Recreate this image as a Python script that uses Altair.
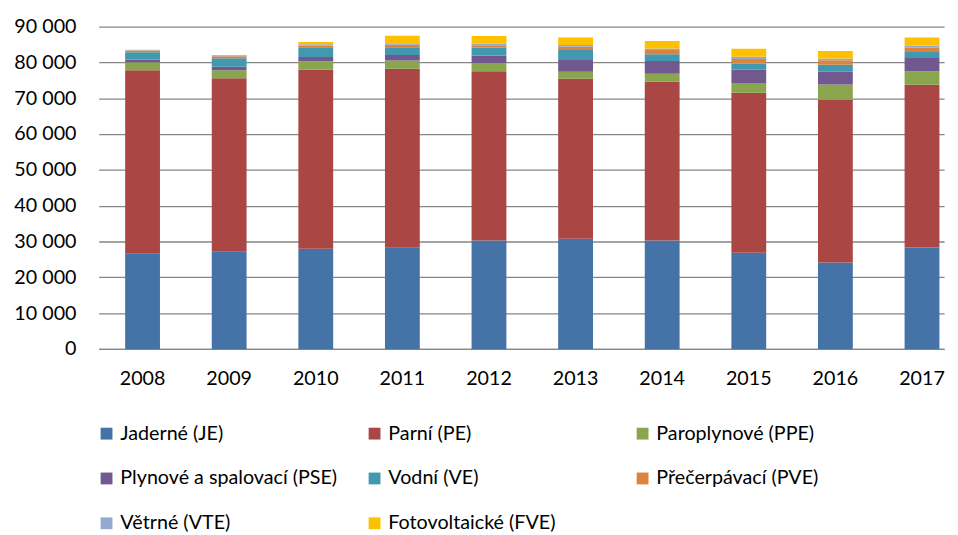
import altair as alt
import pandas as pd

years = ["2008", "2009", "2010", "2011", "2012", "2013", "2014", "2015", "2016", "2017"]
series = ["Jaderné (JE)", "Parní (PE)", "Paroplynové (PPE)", "Plynové a spalovací (PSE)",
          "Vodní (VE)", "Přečerpávací (PVE)", "Větrné (VTE)", "Fotovoltaické (FVE)"]
colors = ["#4572A7", "#AA4643", "#89A54E", "#71588F", "#4198AF", "#DB843D", "#93A9CF", "#FFC000"]

je  = [26550, 27160, 27980, 28270, 30300, 30740, 30300, 26860, 24120, 28300]
pe  = [51260, 48440, 49980, 49970, 47220, 44750, 44370, 44690, 45500, 45450]
ppe = [2280, 2200, 2400, 2310, 2370, 1930, 2200, 2750, 4220, 3770]
pse = [740, 1000, 1180, 1540, 2040, 3300, 3570, 3660, 3570, 3750]
ve  = [2020, 2380, 2750, 2200, 2200, 2750, 1840, 1760, 1930, 1650]
pve = [350, 550, 470, 660, 720, 930, 1190, 1280, 1300, 1210]
vte = [250, 290, 335, 400, 420, 480, 460, 570, 460, 630]
fve = [120, 90, 615, 2110, 2150, 2070, 2080, 2260, 2130, 2200]

values = [je, pe, ppe, pse, ve, pve, vte, fve]
y_ticks = [0, 10000, 20000, 30000, 40000, 50000, 60000, 70000, 80000, 90000]

rows = []
for si, (name, vals) in enumerate(zip(series, values)):
    for yr, v in zip(years, vals):
        rows.append({"year": yr, "series": name, "value": v, "idx": si})
df = pd.DataFrame(rows)

FONT = "Lato"

chart = alt.Chart(df).mark_bar().encode(
    x=alt.X("year:O", title=None,
            scale=alt.Scale(paddingInner=0.598, paddingOuter=0.18, align=0.85),
            axis=alt.Axis(labelAngle=0, ticks=False, labelPadding=20, domainColor="#868686",
                          domainWidth=1.3, labelFontSize=20, labelFont=FONT, labelColor="#000")),
    y=alt.Y("value:Q", title=None, stack="zero",
            scale=alt.Scale(domain=[0, 90000], nice=False),
            axis=alt.Axis(values=y_ticks, ticks=False, domain=False, labelPadding=23,
                          gridColor="#868686", gridWidth=1.3, labelFontSize=20, labelFont=FONT,
                          labelColor="#000",
                          labelExpr="replace(format(datum.value, ','), ',', ' ')")),
    color=alt.Color("series:N", title=None,
                    scale=alt.Scale(domain=series, range=colors),
                    legend=alt.Legend(orient="none", legendX=-2, legendY=403, columns=3,
                                      direction="horizontal", gridAlign="all",
                                      symbolType="square", symbolSize=144, symbolStrokeWidth=0,
                                      labelFontSize=20, labelFont=FONT, labelColor="#000",
                                      labelLimit=0, labelOffset=4, columnPadding=27,
                                      rowPadding=25.5)),
    order=alt.Order("idx:Q", sort="ascending"),
).properties(width=858, height=327, padding=5).configure_view(stroke=None)

chart.save("out.html", embed_options={"renderer": "svg", "actions": False})
